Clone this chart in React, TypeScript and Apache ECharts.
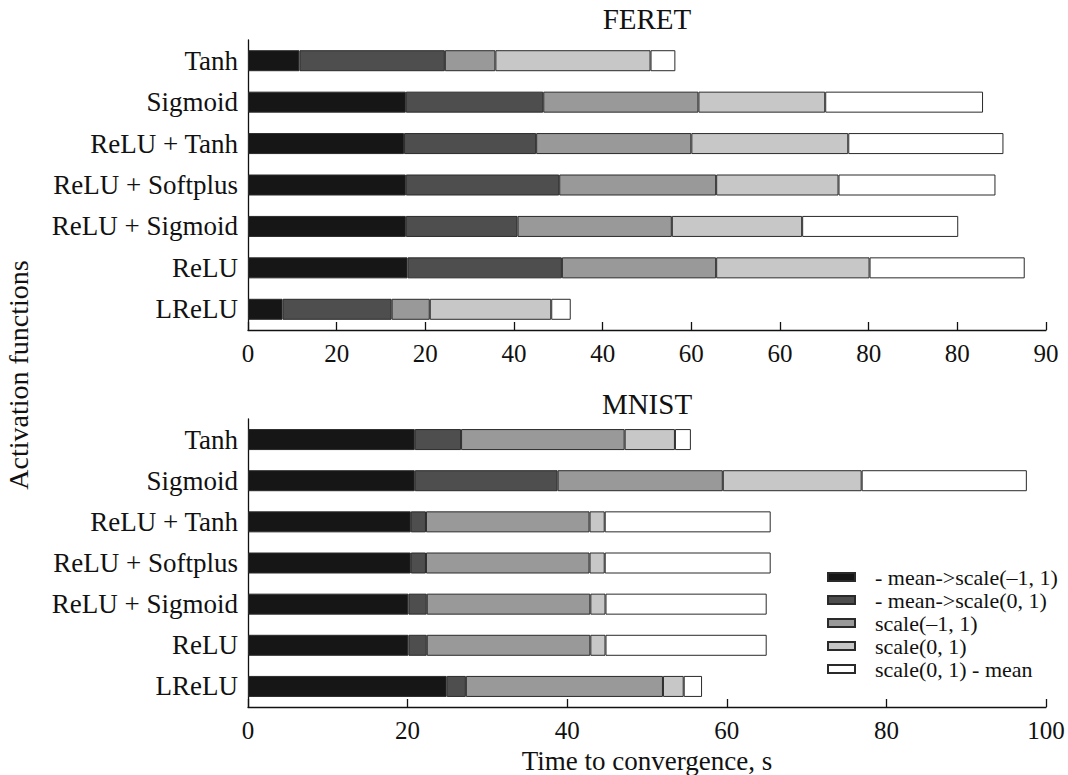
import React, { useEffect, useRef } from "react";
import * as echarts from "echarts";

const categories = ["Tanh", "Sigmoid", "ReLU + Tanh", "ReLU + Softplus", "ReLU + Sigmoid", "ReLU", "LReLU"];
const seriesNames = [
  "- mean->scale(\u20131, 1)",
  "- mean->scale(0, 1)",
  "scale(\u20131, 1)",
  "scale(0, 1)",
  "scale(0, 1) - mean",
];
const seriesColors = ["#161616", "#4e4e4e", "#999999", "#c6c7c6", "#ffffff"];

// FERET (top panel) segment lengths
const feretMeanScaleM1 = [5.8, 17.8, 17.6, 17.8, 17.8, 18.0, 3.9];
const feretMeanScale01 = [16.4, 15.5, 14.9, 17.3, 12.6, 17.4, 12.3];
const feretScaleM1 = [5.7, 17.5, 17.5, 17.7, 17.4, 17.4, 4.3];
const feretScale01 = [17.5, 14.3, 17.7, 13.8, 14.7, 17.3, 13.7];
const feretScale01Mean = [2.8, 17.8, 17.5, 17.7, 17.6, 17.5, 2.2];

// MNIST (bottom panel) segment lengths
const mnistMeanScaleM1 = [20.9, 20.9, 20.4, 20.4, 20.1, 20.1, 24.9];
const mnistMeanScale01 = [5.8, 17.9, 1.9, 1.9, 2.3, 2.3, 2.4];
const mnistScaleM1 = [20.5, 20.7, 20.5, 20.5, 20.5, 20.5, 24.7];
const mnistScale01 = [6.3, 17.4, 1.9, 1.9, 1.9, 1.9, 2.6];
const mnistScale01Mean = [2.0, 20.7, 20.8, 20.8, 20.2, 20.2, 2.3];

// Tick labels as printed on the top axis
const feretTickLabels = ["0", "20", "20", "40", "40", "60", "60", "80", "80", "90"];

const FONT = "'Liberation Serif', 'Times New Roman', serif";

export default function App() {
  const ref = useRef<HTMLDivElement>(null);
  useEffect(() => {
    if (!ref.current) return;
    const chart = echarts.init(ref.current, null, { renderer: "svg" });
    const feret = [feretMeanScaleM1, feretMeanScale01, feretScaleM1, feretScale01, feretScale01Mean];
    const mnist = [mnistMeanScaleM1, mnistMeanScale01, mnistScaleM1, mnistScale01, mnistScale01Mean];
    const mk = (data: number[], i: number, idx: number) => ({
      type: "bar",
      name: seriesNames[i],
      stack: "s" + idx,
      xAxisIndex: idx,
      yAxisIndex: idx,
      barWidth: 21,
      data,
      itemStyle: { color: seriesColors[i], borderColor: "#2a2a2a", borderWidth: 1 },
      emphasis: { disabled: true },
    });
    const series: any[] = [];
    feret.forEach((d, i) => series.push(mk(d, i, 0)));
    mnist.forEach((d, i) => series.push(mk(d, i, 1)));

    const xCommon = {
      type: "value",
      axisLine: { show: true, lineStyle: { color: "#111", width: 1.3 } },
      axisTick: { show: true, inside: true, length: 8, lineStyle: { color: "#111", width: 1.3 } },
      splitLine: { show: false },
      axisLabel: { color: "#111", fontFamily: FONT, fontSize: 25, margin: 11 },
    };
    const yCommon = {
      type: "category",
      data: categories,
      inverse: true,
      axisLine: { show: true, lineStyle: { color: "#111", width: 1.3 } },
      axisTick: { show: false },
      axisLabel: { color: "#111", fontFamily: FONT, fontSize: 27, margin: 10 },
    };

    chart.setOption({
      animation: false,
      backgroundColor: "#fff",
      grid: [
        { left: 248, right: 22, top: 40, height: 290 },
        { left: 248, right: 22, top: 419, height: 290 },
      ],
      xAxis: [
        {
          ...xCommon,
          gridIndex: 0,
          min: 0,
          max: 90,
          interval: 10,
          axisLabel: {
            ...xCommon.axisLabel,
            formatter: (v: number) => feretTickLabels[Math.round(v / 10)] ?? "",
          },
        },
        {
          ...xCommon,
          gridIndex: 1,
          min: 0,
          max: 100,
          interval: 20,
          name: "Time to convergence, s",
          nameLocation: "middle",
          nameGap: 40,
          nameTextStyle: { color: "#111", fontFamily: FONT, fontSize: 27 },
        },
      ],
      yAxis: [
        { ...yCommon, gridIndex: 0 },
        { ...yCommon, gridIndex: 1 },
      ],
      legend: {
        orient: "vertical",
        left: 827,
        top: 566,
        padding: 0,
        icon: "rect",
        itemWidth: 27,
        itemHeight: 8,
        itemGap: 1,
        data: seriesNames,
        selectedMode: false,
        textStyle: { color: "#111", fontFamily: FONT, fontSize: 22, padding: [0, 0, 0, 15] },
      },
      graphic: [
        {
          type: "text",
          x: 647,
          y: 19,
          style: { text: "FERET", font: `29px ${FONT}`, fill: "#111", textAlign: "center", textVerticalAlign: "middle" },
        },
        {
          type: "text",
          x: 647,
          y: 404,
          style: { text: "MNIST", font: `29px ${FONT}`, fill: "#111", textAlign: "center", textVerticalAlign: "middle" },
        },
        {
          type: "text",
          x: 18,
          y: 375,
          rotation: Math.PI / 2,
          style: {
            text: "Activation functions",
            font: `28px ${FONT}`,
            fill: "#111",
            textAlign: "center",
            textVerticalAlign: "middle",
          },
        },
      ],
      series,
    });
    return () => chart.dispose();
  }, []);
  return (
    <div
      ref={ref}
      style={{ position: "absolute", left: 0, top: 0, width: 1068, height: 775, background: "#fff" }}
    />
  );
}
